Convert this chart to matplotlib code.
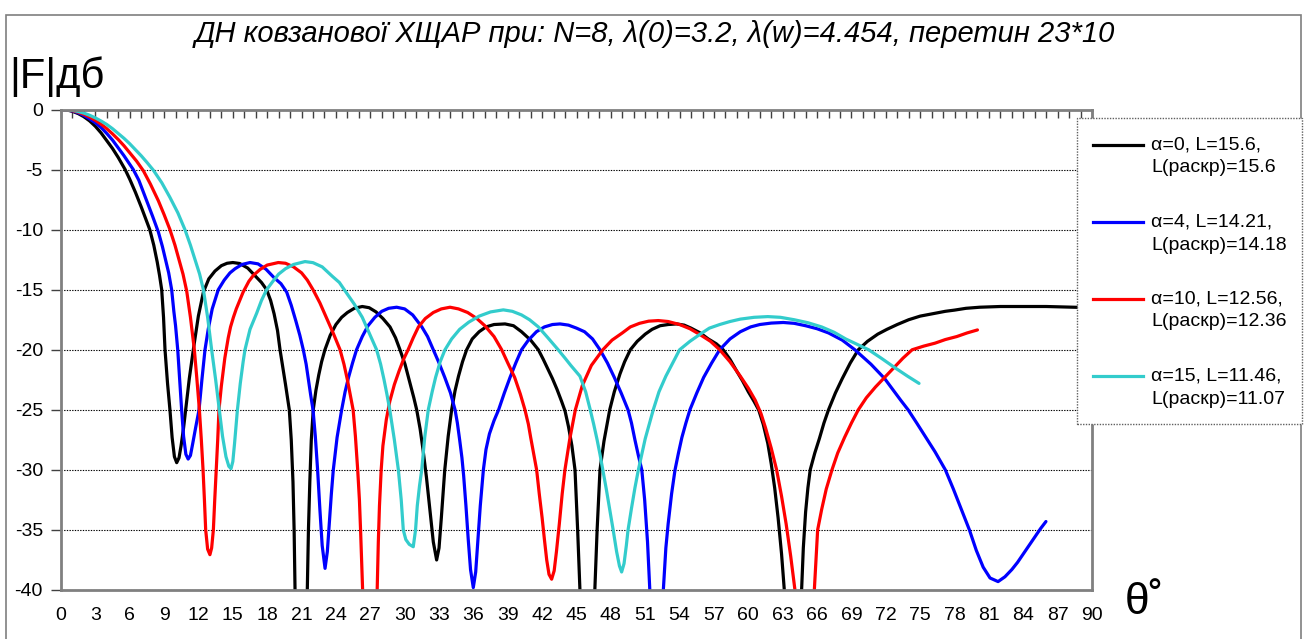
import matplotlib
matplotlib.use('Agg')
import matplotlib.pyplot as plt
from matplotlib.lines import Line2D
from matplotlib.patches import Rectangle

plt.rcParams['font.family'] = ['Liberation Sans', 'DejaVu Sans']

title = "ДН ковзанової ХЩАР при: N=8, λ(0)=3.2, λ(w)=4.454, перетин 23*10"
y_label = "|F|дб"
x_label = "θ˚"
labels = ["α=0, L=15.6,\nL(раскр)=15.6",
          "α=4, L=14.21,\nL(раскр)=14.18",
          "α=10, L=12.56,\nL(раскр)=12.36",
          "α=15, L=11.46,\nL(раскр)=11.07"]
colors = ['#000000', '#0000FF', '#FF0000', '#33CCCC']
x_ticks = list(range(0, 91, 3))
y_ticks = list(range(0, -41, -5))

# (theta deg, |F| dB)
alpha0 = [(0,0),(0.5,-0.04),(1,-0.15),(1.5,-0.34),(2,-0.6),(2.5,-0.95),(3,-1.4),(3.5,-1.95),(4,-2.6),
          (4.5,-3.25),(5,-4.0),(5.6,-5.0),(6.0,-5.8),(6.5,-6.9),(7.0,-8.1),(7.4,-9.1),(7.75,-10),
          (8.1,-11.3),(8.4,-12.7),(8.6,-13.8),(8.79,-15),(8.95,-17.3),(9.08,-20),(9.3,-22.8),(9.51,-25),
          (9.7,-27.3),(9.9,-28.9),(10.1,-29.4),(10.3,-29.0),(10.48,-28.0),(10.7,-26.5),(10.88,-25),
          (11.2,-22.4),(11.55,-20),(11.99,-17.2),(12.43,-15.2),(12.9,-14.1),(13.44,-13.45),(14.0,-13.0),
          (14.5,-12.8),(15.0,-12.74),(15.6,-12.82),(16.3,-13.2),(17.0,-13.9),(17.5,-14.4),(17.95,-15),
          (18.3,-15.9),(18.6,-17.0),(18.9,-18.4),(19.12,-20),(19.4,-21.7),(19.6,-22.9),(19.8,-24.2),
          (19.93,-25),(20.1,-27.5),(20.25,-31),(20.35,-35),(20.43,-40),(21.0,-55),(21.5,-40),(21.6,-35),
          (21.72,-31),(21.85,-27.5),(22.02,-25),(22.25,-23.4),(22.5,-22.1),(22.75,-21),(23.04,-20),
          (23.5,-18.8),(24.0,-17.9),(24.5,-17.3),(25.0,-16.9),(25.6,-16.55),(26.3,-16.4),(26.9,-16.5),
          (27.5,-16.85),(28.1,-17.4),(28.72,-18.1),(29.2,-19.0),(29.59,-20),(30.03,-21.2),(30.47,-22.8),
          (30.8,-24.0),(31.05,-25),(31.35,-26.6),(31.6,-28.3),(31.9,-30.6),(32.2,-33.3),(32.5,-36),
          (32.79,-37.5),(33.0,-36.5),(33.2,-34),(33.35,-32),(33.5,-30),(33.8,-27.2),(34.1,-25),
          (34.4,-23.4),(34.7,-22.2),(35.05,-21),(35.41,-20),(35.9,-19.1),(36.5,-18.5),(37.1,-18.1),
          (37.8,-17.9),(38.76,-17.85),(39.5,-18.0),(40.2,-18.5),(41.0,-19.2),(41.67,-20),(42.1,-20.8),
          (42.5,-21.6),(42.9,-22.4),(43.3,-23.3),(43.7,-24.3),(44.0,-25.1),(44.3,-26.4),(44.6,-28.0),
          (44.87,-30),(45.1,-35),(45.3,-40),(46.0,-55),(46.6,-40),(46.8,-35),(47.05,-30),(47.4,-27.6),
          (47.9,-25),(48.3,-23.5),(48.8,-22),(49.2,-21),(49.7,-20),(50.3,-19.3),(51.0,-18.7),(51.6,-18.3),
          (52.3,-18.0),(53.0,-17.9),(53.74,-17.85),(54.4,-17.95),(55.0,-18.2),(55.8,-18.6),(56.5,-19.1),
          (57.2,-19.5),(57.8,-20),(58.4,-20.8),(59.0,-21.8),(59.5,-22.6),(60.0,-23.5),(60.5,-24.3),
          (60.9,-25),(61.3,-26.2),(61.7,-27.8),(62.0,-29.5),(62.3,-31.5),(62.6,-34),(62.9,-37),(63.14,-40),
          (63.9,-55),(64.65,-40),(64.8,-36.5),(65.0,-33.5),(65.2,-31.5),(65.4,-30),(65.8,-28.6),
          (66.2,-27.4),(66.6,-26.1),(67.0,-25),(67.6,-23.6),(68.2,-22.4),(68.9,-21.1),(69.6,-20),
          (70.4,-19.3),(71.3,-18.7),(72.1,-18.3),(73.0,-17.9),(74.0,-17.5),(75.0,-17.2),(76.3,-16.96),
          (77.2,-16.8),(78.0,-16.7),(79.0,-16.55),(80.2,-16.46),(82,-16.4),(84,-16.4),(86,-16.4),
          (88,-16.45),(90,-16.5)]

alpha4 = [(0,0),(0.5,-0.03),(1,-0.12),(1.5,-0.28),(2,-0.5),(2.5,-0.78),(3,-1.1),(3.5,-1.5),(4,-2.0),
          (4.5,-2.55),(5,-3.2),(5.5,-3.85),(6.0,-4.55),(6.31,-5),(6.8,-5.9),(7.2,-6.9),(7.6,-7.9),
          (8.0,-8.9),(8.5,-10.2),(8.85,-11.4),(9.1,-12.4),(9.4,-13.6),(9.66,-15),(9.85,-16.8),(10.0,-18),
          (10.19,-20),(10.36,-22.5),(10.53,-25),(10.7,-27.2),(10.9,-28.7),(11.1,-29.1),(11.3,-28.8),
          (11.5,-27.8),(11.75,-26.5),(12.05,-25),(12.3,-22.5),(12.57,-20),(12.85,-18.3),(13.2,-16.6),
          (13.73,-15),(14.25,-14.2),(14.75,-13.6),(15.2,-13.25),(15.8,-12.9),(16.5,-12.74),(17.2,-12.85),
          (17.9,-13.3),(18.6,-14.0),(19.2,-14.5),(19.7,-15.2),(20.1,-16.3),(20.5,-17.6),(20.85,-18.8),
          (21.15,-20),(21.4,-21.2),(21.6,-22.5),(21.8,-23.8),(22.0,-25),(22.2,-27.2),(22.4,-30),
          (22.6,-33.3),(22.8,-36.3),(23.05,-38.2),(23.25,-36.8),(23.45,-34),(23.6,-32),(23.77,-30),
          (24.1,-27.3),(24.5,-25),(24.8,-23.5),(25.1,-22.3),(25.45,-21.1),(25.8,-20),(26.3,-18.9),
          (26.8,-18.0),(27.4,-17.3),(28.0,-16.8),(28.6,-16.55),(29.3,-16.46),(30.0,-16.6),(30.7,-17.1),
          (31.5,-18.1),(32.0,-18.9),(32.5,-20),(33.0,-21.1),(33.5,-22.3),(34.0,-23.6),(34.4,-25),
          (34.6,-26.1),(34.8,-27.5),(35.0,-29),(35.15,-30.5),(35.35,-33),(35.55,-35.8),(35.75,-38.3),
          (35.99,-39.8),(36.2,-38.5),(36.4,-35.8),(36.6,-33),(36.87,-30),(37.1,-28.3),(37.4,-27.0),
          (37.8,-25.9),(38.2,-25),(38.7,-23.6),(39.2,-22.3),(39.7,-21.1),(40.2,-20),(40.8,-19.2),
          (41.5,-18.5),(42.2,-18.1),(42.9,-17.9),(43.56,-17.85),(44.3,-17.95),(45.0,-18.2),(45.7,-18.5),
          (46.4,-19.1),(47.05,-20),(47.7,-21.1),(48.3,-22.3),(48.9,-23.6),(49.5,-25),(49.8,-26.1),
          (50.1,-27.5),(50.4,-28.8),(50.7,-30),(50.95,-32.5),(51.2,-36),(51.4,-40),(52.0,-55),(52.58,-40),
          (52.8,-36.5),(53.0,-34.5),(53.3,-32),(53.6,-30),(53.9,-28.6),(54.2,-27.3),(54.55,-26.1),
          (54.9,-25),(55.5,-23.6),(56.1,-22.3),(56.8,-21.1),(57.5,-20),(58.4,-19.1),(59.3,-18.5),
          (60.2,-18.1),(61.0,-17.9),(62.0,-17.78),(63.05,-17.73),(64.0,-17.8),(65.0,-18.0),(66.0,-18.25),
          (67.0,-18.6),(68.2,-19.2),(69.3,-20),(70.0,-20.6),(70.7,-21.2),(71.3,-21.8),(71.9,-22.4),
          (72.6,-23.3),(73.3,-24.2),(73.95,-25),(74.7,-26.1),(75.5,-27.3),(76.3,-28.5),(77.2,-30),
          (77.9,-31.6),(78.6,-33.3),(79.3,-35),(79.9,-36.7),(80.5,-38.1),(81.1,-39.0),(81.8,-39.3),
          (82.4,-38.9),(83.0,-38.3),(83.5,-37.7),(84.0,-37.0),(84.5,-36.3),(85.0,-35.6),(85.5,-34.9),
          (85.98,-34.3)]

alpha10 = [(0,0),(0.5,-0.03),(1,-0.1),(1.5,-0.22),(2,-0.4),(2.5,-0.62),(3,-0.9),(3.5,-1.22),(4,-1.6),
           (4.5,-2.03),(5,-2.5),(5.5,-3.02),(6,-3.6),(6.6,-4.3),(7.19,-5.1),(7.8,-6.2),(8.5,-7.6),
           (9.0,-8.75),(9.51,-10),(9.95,-11.3),(10.3,-12.5),(10.65,-13.7),(10.97,-15.1),(11.3,-17.3),
           (11.64,-20),(11.85,-22.3),(12.08,-25),(12.25,-27.5),(12.4,-30),(12.52,-32.5),(12.63,-35),
           (12.8,-36.6),(13.0,-37.06),(13.15,-36.5),(13.3,-35),(13.42,-32.5),(13.55,-30),(13.68,-27.5),
           (13.79,-25),(14.0,-23.0),(14.3,-20.7),(14.6,-19.0),(14.8,-18.1),(15.05,-17.3),(15.3,-16.6),
           (15.9,-15.2),(16.4,-14.3),(16.8,-13.8),(17.4,-13.3),(18.0,-12.95),(18.97,-12.74),(19.6,-12.8),
           (20.3,-13.1),(21.0,-13.6),(21.5,-14.2),(22.0,-15),(22.6,-16.1),(23.2,-17.4),(23.8,-18.7),
           (24.36,-20),(24.7,-21.2),(25.0,-22.5),(25.3,-24),(25.5,-25),(25.7,-27.2),(25.9,-30),
           (26.05,-32.5),(26.15,-35),(26.33,-40),(27.0,-55),(27.6,-40),(27.7,-36),(27.8,-33),(27.95,-30),
           (28.1,-28),(28.4,-25.8),(28.7,-24.3),(29.1,-22.9),(29.5,-21.8),(29.9,-20.8),(30.3,-20),
           (30.75,-19),(31.2,-18.1),(31.8,-17.4),(32.5,-16.9),(33.2,-16.6),(33.96,-16.46),(34.7,-16.6),
           (35.5,-16.9),(36.3,-17.4),(37.0,-18.0),(37.8,-18.9),(38.47,-20),(39.0,-21.1),(39.6,-22.3),
           (40.1,-23.7),(40.5,-25),(40.8,-26.2),(41.0,-27.3),(41.25,-28.6),(41.52,-30),(41.75,-32),
           (42.0,-34),(42.2,-35.8),(42.4,-37.5),(42.6,-38.7),(42.83,-39.1),(43.05,-38.4),(43.25,-36.8),
           (43.5,-34.5),(43.75,-32),(43.99,-30),(44.4,-27.5),(44.9,-25),(45.5,-23.0),(46.3,-21.3),
           (47.3,-20),(48.1,-19.2),(49.0,-18.6),(49.7,-18.1),(50.5,-17.8),(51.3,-17.62),(52.14,-17.57),
           (53.0,-17.65),(54.0,-17.9),(54.9,-18.25),(55.8,-18.75),(56.7,-19.3),(57.5,-20),(58.4,-21.0),
           (59.3,-22.2),(60.0,-23.2),(60.6,-24.2),(61.1,-25.3),(61.5,-26.5),(62.0,-28.2),(62.47,-30),
           (62.9,-32.2),(63.3,-34.5),(63.7,-37.2),(64.07,-40),(64.9,-55),(65.76,-40),(65.9,-37.4),
           (66.05,-35),(66.4,-33.3),(66.8,-31.6),(67.3,-30),(67.8,-28.6),(68.4,-27.3),(69.0,-26.1),
           (69.6,-25),(70.3,-24),(71.1,-23.1),(71.9,-22.3),(72.7,-21.5),(73.5,-20.7),(74.3,-20),
           (75.3,-19.7),(76.3,-19.45),(77.2,-19.15),(78.2,-18.9),(79.1,-18.6),(80.0,-18.35)]

alpha15 = [(0,0),(0.5,-0.02),(1,-0.07),(1.5,-0.17),(2,-0.3),(2.5,-0.48),(3,-0.7),(3.5,-0.96),(4,-1.25),
           (4.5,-1.6),(5,-2.0),(5.5,-2.4),(6,-2.85),(6.5,-3.35),(7,-3.85),(7.5,-4.4),(8.06,-5.05),
           (8.8,-6.1),(9.5,-7.3),(10.2,-8.6),(10.82,-10),(11.3,-11.3),(11.7,-12.5),(12.1,-13.7),
           (12.43,-15),(12.8,-17.3),(13.15,-20),(13.5,-22.5),(13.82,-25),(14.1,-27.2),(14.4,-28.9),
           (14.65,-29.7),(14.84,-29.9),(15.0,-29.3),(15.15,-27.8),(15.4,-25),(15.65,-22.8),(15.9,-21.0),
           (16.06,-20),(16.5,-18.3),(17.08,-16.96),(17.5,-15.9),(17.95,-15.0),(18.5,-14.3),(19.0,-13.7),
           (19.6,-13.25),(20.3,-12.9),(21.3,-12.66),(22.0,-12.75),(22.8,-13.1),(23.7,-13.9),(24.3,-14.4),
           (24.8,-15.1),(25.6,-16.2),(26.3,-17.3),(26.9,-18.6),(27.55,-20),(27.9,-21.2),(28.2,-22.5),
           (28.45,-23.7),(28.7,-25),(29.1,-27.5),(29.45,-30),(29.7,-32.5),(29.88,-35),(30.1,-35.8),
           (30.4,-36.2),(30.75,-36.4),(30.95,-35),(31.1,-33),(31.3,-31.3),(31.49,-30),(31.75,-27.3),
           (32.06,-25),(32.4,-23.5),(32.7,-22.3),(33.1,-21.0),(33.52,-20),(34.1,-19.1),(34.8,-18.3),
           (35.6,-17.7),(36.5,-17.2),(37.5,-16.85),(38.61,-16.68),(39.4,-16.8),(40.2,-17.1),(40.9,-17.5),
           (41.67,-18.1),(42.5,-19.0),(43.4,-20),(44.0,-20.7),(44.5,-21.3),(45.3,-22.2),(45.8,-23.5),
           (46.2,-25),(46.5,-26.2),(46.8,-27.5),(47.05,-28.7),(47.3,-30),(47.6,-31.6),(47.9,-33.3),
           (48.2,-35),(48.5,-36.8),(48.75,-38),(48.94,-38.5),(49.15,-37.8),(49.35,-36.3),(49.5,-35),
           (49.8,-33.2),(50.1,-31.5),(50.4,-30),(51.0,-27.4),(51.7,-25),(52.2,-23.5),(52.8,-22.2),
           (53.4,-21.1),(54.0,-20),(54.9,-19.3),(55.8,-18.7),(56.6,-18.2),(57.5,-17.9),(58.4,-17.65),
           (59.3,-17.45),(60.5,-17.3),(61.7,-17.24),(62.8,-17.3),(64.0,-17.5),(65.2,-17.75),(66.4,-18.1),
           (67.5,-18.55),(68.5,-19.1),(69.5,-19.55),(70.5,-20),(71.6,-20.7),(72.8,-21.5),(73.9,-22.2),
           (74.9,-22.8)]

series = [alpha0, alpha4, alpha10, alpha15]

W, H = 1304, 639
fig = plt.figure(figsize=(W / 100, H / 100), dpi=100)
fx = lambda x: x / W
fy = lambda y: 1 - y / H

# outer chart border
fig.add_artist(Rectangle((fx(6), fy(660)), fx(1301) - fx(6), fy(15) - fy(660),
                         transform=fig.transFigure, fill=False, ec='#7f7f7f', lw=1.2, zorder=0))

ax = fig.add_axes([fx(61), fy(590), fx(1092) - fx(61), fy(109.5) - fy(590)])
for pts, c in zip(series, colors):
    th, db = zip(*pts)
    ax.plot(th, db, color=c, lw=2.3, solid_joinstyle='round', solid_capstyle='round', zorder=3)

ax.set_xlim(0, 90)
ax.set_ylim(-40, 0)
ax.set_yticks(y_ticks)
ax.set_yticklabels([str(v) for v in y_ticks])
ax.set_xticks(x_ticks)
ax.set_xticklabels([str(v) for v in x_ticks])
ax.set_xticks(range(0, 91), minor=True)
ax.xaxis.remove_overlapping_locs = False
ax.tick_params(axis='x', which='major', bottom=True, top=False, length=0, pad=12, labelsize=14)
ax.tick_params(axis='x', which='minor', bottom=False, top=True, direction='in', length=6, width=1, color='#404040')
ax.tick_params(axis='y', which='major', left=True, direction='out', length=7, width=1, color='#404040',
               pad=6, labelsize=14)
ax.yaxis.grid(True, linestyle=(0, (1.2, 1.2)), color='black', lw=0.8)
ax.set_axisbelow(True)
for s in ax.spines.values():
    s.set_color('#808080')
    s.set_linewidth(2)
    s.set_zorder(4)

fig.text(fx(655), fy(34), title, ha='center', va='center', style='italic', size=21)
fig.text(fx(9), fy(77), y_label, ha='left', va='center', size=30)
fig.text(fx(1125), fy(602), x_label, ha='left', va='center', size=32)

# legend box
fig.add_artist(Rectangle((fx(1077), fy(424)), fx(1302) - fx(1077), fy(118) - fy(424),
                         transform=fig.transFigure, fc='white', ec='#606060', lw=1,
                         ls=(0, (1, 1)), zorder=5))
entry_y = [145, 222, 299, 376]
for lab, c, yy in zip(labels, colors, entry_y):
    fig.add_artist(Line2D([fx(1093), fx(1143)], [fy(yy), fy(yy)], transform=fig.transFigure,
                          color=c, lw=2.3, zorder=6))
    for k, line in enumerate(lab.split('\n')):
        fig.text(fx(1151), fy(yy + 23 * k), line, ha='left', va='center', size=14, zorder=6)

fig.savefig('out.png', dpi=100)
